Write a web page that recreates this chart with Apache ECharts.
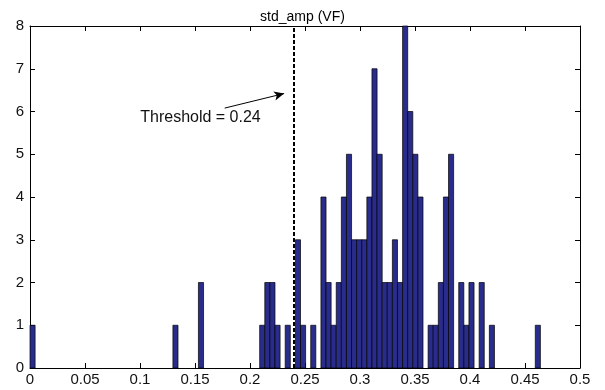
<!DOCTYPE html>
<html>
<head>
<meta charset="utf-8">
<script src="https://cdn.jsdelivr.net/npm/echarts@6/dist/echarts.min.js"></script>
<style>
html,body{margin:0;padding:0;background:#fff;}
#c{width:605px;height:390px;}
</style>
</head>
<body>
<div id="c"></div>
<script>
// ---- data ----
const titleText = 'std_amp (VF)';
const histMin = 0;
const histMax = 0.464;
const counts = [
  1,0,0,0,0,0,0,0,0,0,
  0,0,0,0,0,0,0,0,0,0,
  0,0,0,0,0,0,0,0,1,0,
  0,0,0,2,0,0,0,0,0,0,
  0,0,0,0,0,1,2,2,1,0,
  1,0,3,1,0,1,0,4,2,1,
  2,4,5,3,3,3,4,7,5,2,
  2,3,2,8,6,5,4,0,1,1,
  2,4,5,0,2,1,2,0,2,0,
  1,0,0,0,0,0,0,0,0,1
];
const thresholdValue = 0.24;
const thresholdLabel = 'Threshold = 0.24';
const arrowFrom = [0.177, 6.08];
const arrowTo = [0.231, 6.42];
const labelAt = [0.155, 5.86];
const xTicks = {min: 0, max: 0.5, interval: 0.05};
const yTicks = {min: 0, max: 8, interval: 1};

// ---- chart ----
const binW = (histMax - histMin) / counts.length;
const bins = [];
counts.forEach((c, i) => {
  if (c > 0) bins.push([histMin + i * binW, histMin + (i + 1) * binW, c]);
});

const font = 'Liberation Sans, Arial, sans-serif';
const axisCommon = {
  axisLine: {show: true, onZero: false, lineStyle: {color: '#000', width: 1}},
  axisTick: {show: true, inside: true, length: 5, lineStyle: {color: '#000', width: 1}},
  splitLine: {show: false}
};

const chart = echarts.init(document.getElementById('c'), null, {renderer: 'canvas'});
chart.setOption({
  animation: false,
  backgroundColor: '#fff',
  title: {
    text: titleText, left: 'center', top: 5,
    textStyle: {fontFamily: font, fontSize: 14, fontWeight: 'normal', color: '#000'}
  },
  grid: {left: 30, right: 25, top: 26, bottom: 22},
  xAxis: [
    Object.assign({type: 'value', position: 'bottom', min: xTicks.min, max: xTicks.max, interval: xTicks.interval,
      axisLabel: {color: '#111', fontFamily: font, fontSize: 15, margin: 4}}, axisCommon),
    Object.assign({type: 'value', position: 'top', min: xTicks.min, max: xTicks.max, interval: xTicks.interval,
      axisLabel: {show: false}}, axisCommon)
  ],
  yAxis: [
    Object.assign({type: 'value', position: 'left', min: yTicks.min, max: yTicks.max, interval: yTicks.interval,
      axisLabel: {color: '#111', fontFamily: font, fontSize: 15, margin: 6}}, axisCommon),
    Object.assign({type: 'value', position: 'right', min: yTicks.min, max: yTicks.max, interval: yTicks.interval,
      axisLabel: {show: false}}, axisCommon)
  ],
  series: [
    {
      type: 'custom',
      xAxisIndex: 0, yAxisIndex: 0,
      data: bins,
      encode: {x: [0, 1], y: 2},
      renderItem: function (params, api) {
        const p0 = api.coord([api.value(0), api.value(2)]);
        const p1 = api.coord([api.value(1), 0]);
        return {
          type: 'rect',
          shape: {x: p0[0], y: p0[1], width: p1[0] - p0[0], height: p1[1] - p0[1]},
          style: {fill: '#2a2c8c', stroke: '#000', lineWidth: 0.7}
        };
      }
    },
    {
      type: 'line',
      xAxisIndex: 0, yAxisIndex: 0,
      data: [[thresholdValue, yTicks.min], [thresholdValue, yTicks.max]],
      symbol: 'none',
      lineStyle: {color: '#000', width: 2, type: [4, 2]},
      z: 5
    },
    {
      type: 'line',
      xAxisIndex: 0, yAxisIndex: 0,
      data: [],
      markLine: {
        silent: true,
        symbol: ['none', 'arrow'],
        symbolSize: [7, 10],
        label: {show: false},
        lineStyle: {color: '#000', width: 1, type: 'solid'},
        data: [[{coord: arrowFrom}, {coord: arrowTo}]]
      },
      markPoint: {
        silent: true,
        symbol: 'circle', symbolSize: 0,
        label: {show: true, position: 'inside', formatter: thresholdLabel,
          fontFamily: font, fontSize: 16, color: '#111'},
        data: [{coord: labelAt}]
      }
    }
  ]
});
</script>
</body>
</html>
